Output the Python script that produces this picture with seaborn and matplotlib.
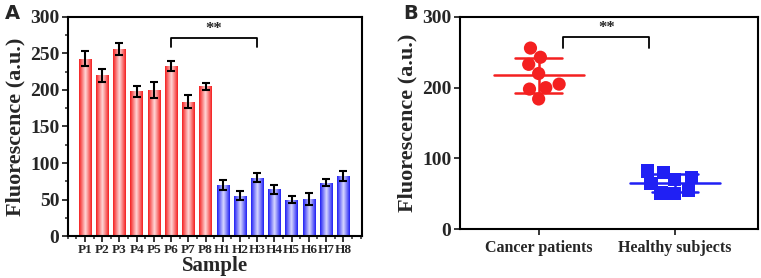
import numpy as np
import pandas as pd
import matplotlib
matplotlib.use("Agg")
import matplotlib.pyplot as plt
import seaborn as sns
from matplotlib.colors import LinearSegmentedColormap
from matplotlib.ticker import MultipleLocator
from matplotlib.markers import MarkerStyle

# ---- data ----
samples = ["P1", "P2", "P3", "P4", "P5", "P6", "P7", "P8",
           "H1", "H2", "H3", "H4", "H5", "H6", "H7", "H8"]
fluor = [243, 220, 256, 198, 200, 233, 184, 205,
         70, 55, 80, 64, 50, 51, 73, 82]
fluor_err = [10, 9, 8, 7, 11, 7, 9, 5,
             7, 6, 6, 6, 5, 8, 5, 7]
groups = ["Cancer patients"] * 8 + ["Healthy subjects"] * 8
group_names = ["Cancer patients", "Healthy subjects"]

sns.set_theme(style="white")
plt.rcParams['font.family'] = ['Liberation Serif', 'DejaVu Serif']
plt.rcParams['font.weight'] = 'bold'

RED = "#f42020"
BLUE = "#2020f4"

fig = plt.figure(figsize=(7.61, 2.78), dpi=100)
axA = fig.add_axes([0.089, 0.151, 0.387, 0.788])
axB = fig.add_axes([0.604, 0.176, 0.392, 0.763])

df = pd.DataFrame({"Sample": samples, "F": fluor, "err": fluor_err, "Group": groups})

# ---- Panel A ----
sns.barplot(data=df, x="Sample", y="F", hue="Group", palette=[RED, BLUE],
            dodge=False, width=0.72, ax=axA, legend=False, errorbar=None,
            linewidth=0)
cmaps = {RED: LinearSegmentedColormap.from_list("r", [RED, "#ffd8d8", RED]),
         BLUE: LinearSegmentedColormap.from_list("b", [BLUE, "#d8d8ff", BLUE])}
grad = np.linspace(0, 1, 64).reshape(1, -1)
for p, g in zip(axA.patches, groups):
    x0, y0 = p.get_x(), p.get_y()
    w, h = p.get_width(), p.get_height()
    if h <= 0:
        continue
    c = RED if g == group_names[0] else BLUE
    im = axA.imshow(grad, cmap=cmaps[c], aspect="auto",
                    extent=[x0, x0 + w, y0, y0 + h], zorder=p.get_zorder() + 0.1)
    im.set_clip_path(p)
    p.set_facecolor("none")
axA.errorbar(np.arange(len(samples)), fluor, yerr=fluor_err, fmt="none",
             ecolor="black", elinewidth=1.5, capsize=3, capthick=1.5, zorder=5)
axA.set_xlim(-1.0, 16.1)
axA.set_ylim(0, 300)
axA.yaxis.set_major_locator(MultipleLocator(50))
axA.yaxis.set_minor_locator(MultipleLocator(25))
axA.xaxis.set_minor_locator(MultipleLocator(0.5))
axA.set_xlabel("Sample", fontsize=15, fontweight="bold", labelpad=0)
axA.set_ylabel("Fluorescence (a.u.)", fontsize=16, fontweight="bold", labelpad=3)
axA.tick_params(axis="y", labelsize=14, direction="out", length=4, width=1.3, left=True, pad=2)
axA.tick_params(axis="y", which="minor", direction="out", length=2.5, width=1.1, left=True)
axA.tick_params(axis="x", labelsize=9.5, direction="out", length=4, width=1.3, bottom=True, pad=2)
axA.tick_params(axis="x", which="minor", direction="out", length=2.5, width=1.1, bottom=True)
for lab in axA.get_xticklabels() + axA.get_yticklabels():
    lab.set_fontweight("bold")
for s in axA.spines.values():
    s.set_linewidth(1.5)
    s.set_color("black")
# bracket
axA.plot([5, 5, 10, 10], [259, 271, 271, 259], color="black", lw=1.3, clip_on=False)
axA.text(7.5, 272, "**", ha="center", va="bottom", fontsize=12, fontweight="bold")

# ---- Panel B ----
sns.swarmplot(data=df, x="Group", y="F", hue="Group", palette=[RED, BLUE],
              order=group_names, ax=axB, size=9.5, legend=False,
              linewidth=0, warn_thresh=1.0)
for coll, mk in zip(axB.collections, ["o", "s"]):
    m = MarkerStyle(mk)
    coll.set_paths([m.get_path().transformed(m.get_transform())])
fvals = np.array(fluor)
for i, g in enumerate(group_names):
    v = fvals[np.array(groups) == g]
    mean, sd = v.mean(), v.std(ddof=1)
    c = RED if i == 0 else BLUE
    axB.plot([i - 0.33, i + 0.33], [mean, mean], color=c, lw=1.8, zorder=1)
    axB.plot([i - 0.17, i + 0.17], [mean + sd, mean + sd], color=c, lw=1.8, zorder=1)
    axB.plot([i - 0.17, i + 0.17], [mean - sd, mean - sd], color=c, lw=1.8, zorder=1)
    axB.plot([i, i], [mean - sd, mean + sd], color=c, lw=1.8, zorder=1)
axB.set_xlim(-0.58, 1.61)
axB.set_ylim(0, 300)
axB.yaxis.set_major_locator(MultipleLocator(100))
axB.set_xlabel("")
axB.set_ylabel("Fluorescence (a.u.)", fontsize=16, fontweight="bold", labelpad=3)
axB.tick_params(axis="y", labelsize=14, direction="out", length=4, width=1.3, left=True, pad=2)
axB.tick_params(axis="x", labelsize=11.5, direction="out", length=4, width=1.3, bottom=True, pad=4)
for lab in axB.get_xticklabels() + axB.get_yticklabels():
    lab.set_fontweight("bold")
for s in axB.spines.values():
    s.set_linewidth(1.5)
    s.set_color("black")
axB.plot([0.18, 0.18, 0.81, 0.81], [256, 272, 272, 256], color="black", lw=1.3)
axB.text(0.5, 273, "**", ha="center", va="bottom", fontsize=12, fontweight="bold")

fig.text(0.007, 0.985, "A", fontsize=14, fontweight="bold", family="DejaVu Sans", va="top")
fig.text(0.53, 0.985, "B", fontsize=14, fontweight="bold", family="DejaVu Sans", va="top")

fig.savefig("out.png", dpi=100)
